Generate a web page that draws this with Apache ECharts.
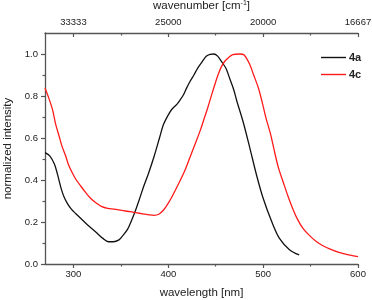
<!DOCTYPE html>
<html><head><meta charset="utf-8">
<script src="https://cdn.jsdelivr.net/npm/echarts@6/dist/echarts.min.js"></script>
<style>html,body{margin:0;padding:0;background:#fff}#c{width:372px;height:300px}</style>
</head><body><div id="c"></div>
<script>
const seriesNames = ['4a', '4c'];
const wl4a = [270,275,280,283,287,290,294,298,302,307,313,319,325,331,337,342,348,352,357,361,365,370,374,379,385,391,395,400,404,409,413,416,419,423,427,431,436,440,444,448,452,456,461,465,469,472,479,486,493,500,509,517,528,538];
const int4a = [0.530,0.515,0.475,0.43,0.36,0.32,0.285,0.26,0.242,0.22,0.194,0.17,0.146,0.122,0.106,0.106,0.115,0.135,0.165,0.205,0.25,0.315,0.369,0.43,0.512,0.605,0.665,0.71,0.738,0.76,0.785,0.806,0.835,0.87,0.90,0.933,0.965,0.989,0.998,1.0,0.99,0.965,0.93,0.88,0.83,0.78,0.675,0.552,0.424,0.313,0.202,0.123,0.067,0.043];
const wl4c = [270,274,278,281,285,288,292,295,299,303,308,313,318,324,330,336,343,351,360,367,374,380,385,390,395,400,405,410,417,423,429,434,438,442,446,452,456,460,464,468,475,480,486,490,495,499,503,508,512,516,521,526,531,536,542,549,556,563,570,580,590,600];
const int4c = [0.838,0.79,0.734,0.67,0.607,0.56,0.512,0.47,0.432,0.40,0.369,0.34,0.313,0.29,0.273,0.265,0.261,0.255,0.249,0.243,0.238,0.234,0.232,0.237,0.257,0.29,0.33,0.375,0.44,0.51,0.58,0.64,0.695,0.75,0.81,0.895,0.94,0.968,0.985,0.997,1.0,0.995,0.949,0.90,0.838,0.77,0.695,0.615,0.535,0.46,0.392,0.325,0.266,0.215,0.17,0.135,0.107,0.087,0.072,0.055,0.043,0.035];
const xMajor = [300,400,500,600];
const xMinor = [350,450,550];
const yMajor = [0,0.2,0.4,0.6,0.8,1.0];
const yMinor = [0.1,0.3,0.5,0.7,0.9];

const axCol = '#555';
const txtCol = '#222';
const font = 'Liberation Sans, Arial, sans-serif';
function xAx(pos, ticks, len, labels, extra) {
  return Object.assign({
    type: 'value', position: pos, min: 270, max: 600,
    axisLine: {show: true, onZero: false, lineStyle: {color: axCol, width: 1.3}},
    axisTick: {show: true, customValues: ticks, length: len, inside: pos === 'top', lineStyle: {color: axCol, width: 1.2}},
    axisLabel: labels ? Object.assign({customValues: ticks, fontSize: 9.5, color: txtCol, fontFamily: font}, labels) : {show: false},
    splitLine: {show: false}
  }, extra || {});
}
const option = {
  animation: false,
  grid: {left: 45, right: 14, top: 33, bottom: 36, outerBoundsMode: 'none', containLabel: false},
  legend: {
    orient: 'vertical', left: 316, top: 47, itemWidth: 25, itemHeight: 1.4, itemGap: 6, icon: 'rect',
    textStyle: {fontWeight: 'bold', fontSize: 11, color: txtCol, fontFamily: font, padding: [0,0,0,-2]},
    data: seriesNames
  },
  xAxis: [
    xAx('bottom', xMajor, 4, {margin: 5}, {name: 'wavelength [nm]', nameLocation: 'middle', nameGap: 23, nameTextStyle: {fontSize: 11.5, color: txtCol, fontFamily: font}}),
    xAx('bottom', xMinor, 2.5, null, {axisLine: {show: false, onZero: false}}),
    xAx('top', xMajor, 4, {margin: 6, formatter: v => String(Math.round(1e7 / v))}, {
      name: 'wavenumber [cm{sup|-1}]', nameLocation: 'middle', nameGap: 20,
      nameTextStyle: {fontSize: 11.5, color: txtCol, fontFamily: font, rich: {sup: {fontSize: 7, verticalAlign: 'top', padding: [0,0,6,0], color: txtCol, fontFamily: font}}}
    }),
    xAx('top', xMinor, 2.5, null, {axisLine: {show: false, onZero: false}})
  ],
  yAxis: [
    {
      type: 'value', min: 0, max: 1.1, position: 'left',
      axisLine: {show: true, onZero: false, lineStyle: {color: axCol, width: 1.3}},
      axisTick: {show: true, customValues: yMajor, length: 4, lineStyle: {color: axCol, width: 1.2}},
      axisLabel: {customValues: yMajor, fontSize: 9.5, color: txtCol, fontFamily: font, margin: 7, formatter: v => v.toFixed(1)},
      splitLine: {show: false},
      name: 'normalized intensity', nameLocation: 'middle', nameGap: 31,
      nameTextStyle: {fontSize: 11.5, color: txtCol, fontFamily: font}
    },
    {
      type: 'value', min: 0, max: 1.1, position: 'left',
      axisLine: {show: false, onZero: false},
      axisTick: {show: true, customValues: yMinor, length: 2.5, lineStyle: {color: axCol, width: 1.2}},
      axisLabel: {show: false}, splitLine: {show: false}
    }
  ],
  series: [
    {name: seriesNames[0], type: 'line', symbol: 'none', smooth: 0.3, color: '#111', lineStyle: {width: 1.3, color: '#111'},
     data: wl4a.map((w, i) => [w, int4a[i]])},
    {name: seriesNames[1], type: 'line', symbol: 'none', smooth: 0.3, color: '#ff1a1a', lineStyle: {width: 1.3, color: '#ff1a1a'},
     data: wl4c.map((w, i) => [w, int4c[i]])}
  ]
};
echarts.init(document.getElementById('c'), null, {renderer: 'canvas'}).setOption(option);
</script></body></html>
